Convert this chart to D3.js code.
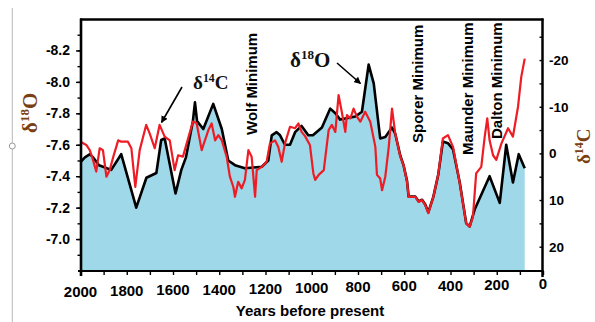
<!DOCTYPE html>
<html><head><meta charset="utf-8">
<script src="https://cdn.jsdelivr.net/npm/d3@7"></script>
<style>body{margin:0;background:#fff}svg{display:block}</style>
</head><body>
<svg id="c" width="595" height="322"></svg>
<script>
// ---- data ----
const o18Years = [2000,1981,1959,1946,1920,1867,1824,1759,1715,1672,1651,1636,1589,1564,1544,1514,1505,1496,1469,1426,1389,1361,1332,1289,1216,1188,1173,1152,1137,1116,1094,1072,1044,1015,995,956,920,898,877,812,783,754,732,704,682,653,639,617,603,588,581,552,538,523,509,496,474,453,433,411,389,360,332,317,295,231,187,159,130,105,79];
const o18Values = [-7.49,-7.52,-7.54,-7.52,-7.47,-7.44,-7.54,-7.20,-7.39,-7.42,-7.63,-7.64,-7.29,-7.44,-7.52,-7.75,-7.87,-7.75,-7.70,-7.86,-7.70,-7.50,-7.47,-7.45,-7.46,-7.50,-7.66,-7.68,-7.66,-7.60,-7.60,-7.68,-7.72,-7.66,-7.66,-7.71,-7.83,-7.80,-7.76,-7.78,-7.81,-8.11,-7.99,-7.64,-7.65,-7.71,-7.67,-7.53,-7.47,-7.37,-7.27,-7.27,-7.24,-7.25,-7.22,-7.17,-7.27,-7.41,-7.62,-7.61,-7.57,-7.36,-7.10,-7.08,-7.19,-7.40,-7.23,-7.60,-7.36,-7.54,-7.45];
const c14Years = [2000,1975,1960,1946,1932,1917,1903,1888,1874,1858,1837,1824,1795,1780,1763,1744,1716,1701,1679,1658,1636,1614,1593,1578,1557,1514,1498,1476,1462,1447,1433,1418,1404,1389,1368,1354,1339,1332,1318,1303,1289,1274,1260,1245,1238,1216,1195,1181,1159,1145,1130,1116,1094,1072,1058,1044,1029,1008,993,985,970,948,927,913,898,884,869,855,848,833,819,804,790,769,747,725,718,704,696,682,667,653,639,617,603,588,581,552,538,523,509,496,474,453,433,411,389,360,332,317,303,289,267,252,241,231,216,202,180,151,130,108,94,79];
const c14Values = [-2.5,-1.8,-0.7,1.4,3.9,-1.1,-0.7,5.0,3.6,0.7,-2.8,-2.5,-2.5,-1.1,7.2,-0.7,-6.1,-4.3,-1.1,-6.1,-3.6,-2.8,3.6,0.4,0.7,-6.8,-6.5,-0.7,-2.8,-5.0,-6.4,-2.8,-3.9,-2.8,0.7,5.0,7.2,9.3,6.1,7.5,5.7,-0.7,0.7,9.3,3.6,2.9,1.8,-2.1,-2.8,-1.4,1.8,-2.1,-5.7,-5.4,-6.4,-4.6,-3.7,-1.8,4.3,5.7,4.6,3.6,-5.0,-6.1,-4.6,-12.5,-8.6,-4.6,-8.2,-7.5,-9.6,-7.8,-6.8,-8.9,-6.8,-1.4,4.6,5.4,7.9,5.0,-1.4,-9.6,-4.3,0.7,2.5,6.1,9.3,9.3,10.4,10.0,11.1,12.8,9.3,4.6,-3.2,-3.9,-1.4,6.4,15.0,15.7,13.6,4.3,2.9,-3.6,-7.5,-2.8,0.4,1.4,-2.1,-5.4,-3.6,-10.0,-16.4,-20.3];
const xTickLabels = [2000,1800,1600,1400,1200,1000,800,600,400,200,0];
const xMinorTicks = [2000,1900,1800,1700,1600,1500,1400,1300,1200,1100,1000,900,800,700,600,500,400,300,200,100,0];
const leftTickLabels = [-8.2,-8.0,-7.8,-7.6,-7.4,-7.2,-7.0];
const leftMinorTicks = [-8.3,-8.2,-8.1,-8.0,-7.9,-7.8,-7.7,-7.6,-7.5,-7.4,-7.3,-7.2,-7.1,-7.0,-6.9];
const rightTickLabels = [-20,-10,0,10,20];
const rightMinorTicks = [-25,-20,-15,-10,-5,0,5,10,15,20];
const minimaNames = ["Wolf Minimum","Sporer Minimum","Maunder Minimum","Dalton Minimum"];
const minimaYears = [1237,519,301,177];

// ---- layout ----
const minimaBottom = [135,143,155,139];
const svg = d3.select("#c");
const x = d3.scaleLinear().domain([2000,0]).range([80.5,543]);
const yL = d3.scaleLinear().domain([-8.4,-6.8]).range([19,270.5]);
const yR = d3.scaleLinear().domain([-28.8,25.1]).range([19,270.5]);
const sans = "'Liberation Sans', Arial, sans-serif";
const serif = "'Liberation Serif', 'Times New Roman', serif";

const o18 = o18Years.map((d,i)=>({year:d, v:o18Values[i]}));
const c14 = c14Years.map((d,i)=>({year:d, v:c14Values[i]}));

// stray gray guide
svg.append("line").attr("x1",12.3).attr("x2",12.3).attr("y1",8).attr("y2",322)
  .attr("stroke","#b8b8b8").attr("stroke-width",1);
svg.append("circle").attr("cx",12.3).attr("cy",146).attr("r",3)
  .attr("fill","#fff").attr("stroke","#999").attr("stroke-width",1);

// area + lines
svg.append("path").datum(o18)
  .attr("d", d3.area().x(d=>x(d.year)).y0(yL(-6.8)).y1(d=>yL(d.v)))
  .attr("fill","#9fd8e9");
svg.append("path").datum(o18)
  .attr("d", d3.line().x(d=>x(d.year)).y(d=>yL(d.v)))
  .attr("fill","none").attr("stroke","#000").attr("stroke-width",2.6).attr("stroke-linejoin","round");
svg.append("path").datum(c14)
  .attr("d", d3.line().x(d=>x(d.year)).y(d=>yR(d.v)))
  .attr("fill","none").attr("stroke","#ee1c24").attr("stroke-width",2.2).attr("stroke-linejoin","round");

// frame
svg.append("line").attr("x1",80).attr("x2",543.5).attr("y1",19.5).attr("y2",19.5)
  .attr("stroke","#000").attr("stroke-width",2.5);
svg.append("line").attr("x1",81).attr("x2",81).attr("y1",18.5).attr("y2",276)
  .attr("stroke","#000").attr("stroke-width",2.6);
svg.append("line").attr("x1",542.5).attr("x2",542.5).attr("y1",18.5).attr("y2",277)
  .attr("stroke","#000").attr("stroke-width",2.5);
svg.append("line").attr("x1",78).attr("x2",543.5).attr("y1",271).attr("y2",271)
  .attr("stroke","#000").attr("stroke-width",2);

// left axis
const gL = svg.append("g").attr("transform","translate(81,0)");
gL.call(d3.axisLeft(yL).tickValues(leftMinorTicks).tickSize(3.5).tickFormat(""));
gL.call(g=>g.select(".domain").remove());
const gL2 = svg.append("g").attr("transform","translate(81,0)");
gL2.call(d3.axisLeft(yL).tickValues(leftTickLabels).tickSize(5).tickPadding(6).tickFormat(d=>d.toFixed(1)));
gL2.call(g=>g.select(".domain").remove());
gL2.selectAll("text").attr("font-family",sans).attr("font-weight","bold").attr("font-size",14).attr("fill","#000");
svg.selectAll(".tick line").attr("stroke","#000").attr("stroke-width",1.4);

// right axis
const gR = svg.append("g").attr("transform","translate(542.5,0)");
gR.call(d3.axisLeft(yR).tickValues(rightMinorTicks).tickSize(3).tickFormat(""));
gR.call(g=>g.select(".domain").remove());
gR.selectAll("line").attr("stroke","#000").attr("stroke-width",1.4);
svg.append("g").selectAll("text").data(rightTickLabels).join("text")
  .attr("x",549).attr("y",d=>yR(d)).attr("dy","0.36em")
  .attr("font-family",sans).attr("font-weight","bold").attr("font-size",13.5)
  .text(d=>String(d));

// bottom axis
const gB = svg.append("g").attr("transform","translate(0,271)");
gB.call(d3.axisBottom(x).tickValues(xMinorTicks).tickSize(4).tickFormat(""));
gB.call(g=>g.select(".domain").remove());
gB.selectAll("line").attr("stroke","#000").attr("stroke-width",1.4);
svg.append("g").selectAll("text").data(xTickLabels).join("text")
  .attr("x",d=>x(d)).attr("y",d=>297 - (x(d)-80.5)/462.5*8)
  .attr("text-anchor","middle")
  .attr("font-family",sans).attr("font-weight","bold").attr("font-size",15)
  .text(d=>String(d));
svg.append("text").attr("x",310).attr("y",316).attr("text-anchor","middle")
  .attr("font-family",sans).attr("font-weight","bold").attr("font-size",15)
  .text("Years before present");

// minima labels
svg.append("g").selectAll("text").data(minimaNames).join("text")
  .attr("transform",(d,i)=>`translate(${x(minimaYears[i])},${minimaBottom[i]}) rotate(-90)`)
  .attr("font-family",sans).attr("font-weight","bold").attr("font-size",15)
  .attr("fill","#000")
  .text(d=>d);

// axis titles
function isoLabel(parent, sup, tail, size, color){
  const t = parent.append("text").attr("font-family",serif).attr("font-weight","bold")
    .attr("font-size",size).attr("fill",color);
  t.append("tspan").text("δ");
  t.append("tspan").attr("font-size",size*0.62).attr("dy",-size*0.38).text(sup);
  t.append("tspan").attr("dy",size*0.38).text(tail);
  return t;
}
isoLabel(svg.append("g").attr("transform","translate(37,133) rotate(-90)"),"18","O",21,"#7a3f12");
isoLabel(svg.append("g").attr("transform","translate(590,164) rotate(-90)"),"14","C",19,"#7a3f12");

// annotations
isoLabel(svg.append("g").attr("transform","translate(193,89)"),"14","C",19,"#111");
isoLabel(svg.append("g").attr("transform","translate(290,66.5)"),"18","O",21,"#111");

const defs = svg.append("defs");
defs.append("marker").attr("id","ah").attr("viewBox","0 0 10 10").attr("refX",9).attr("refY",5)
  .attr("markerWidth",7).attr("markerHeight",7).attr("markerUnits","userSpaceOnUse").attr("orient","auto")
  .append("path").attr("d","M0,0 L10,5 L0,10 z").attr("fill","#000");
svg.append("line").attr("x1",182).attr("y1",87).attr("x2",161.5).attr("y2",122.5)
  .attr("stroke","#000").attr("stroke-width",1.6).attr("marker-end","url(#ah)");
svg.append("line").attr("x1",337).attr("y1",63).attr("x2",360.5).attr("y2",83.5)
  .attr("stroke","#000").attr("stroke-width",1.6).attr("marker-end","url(#ah)");
</script>
</body></html>
